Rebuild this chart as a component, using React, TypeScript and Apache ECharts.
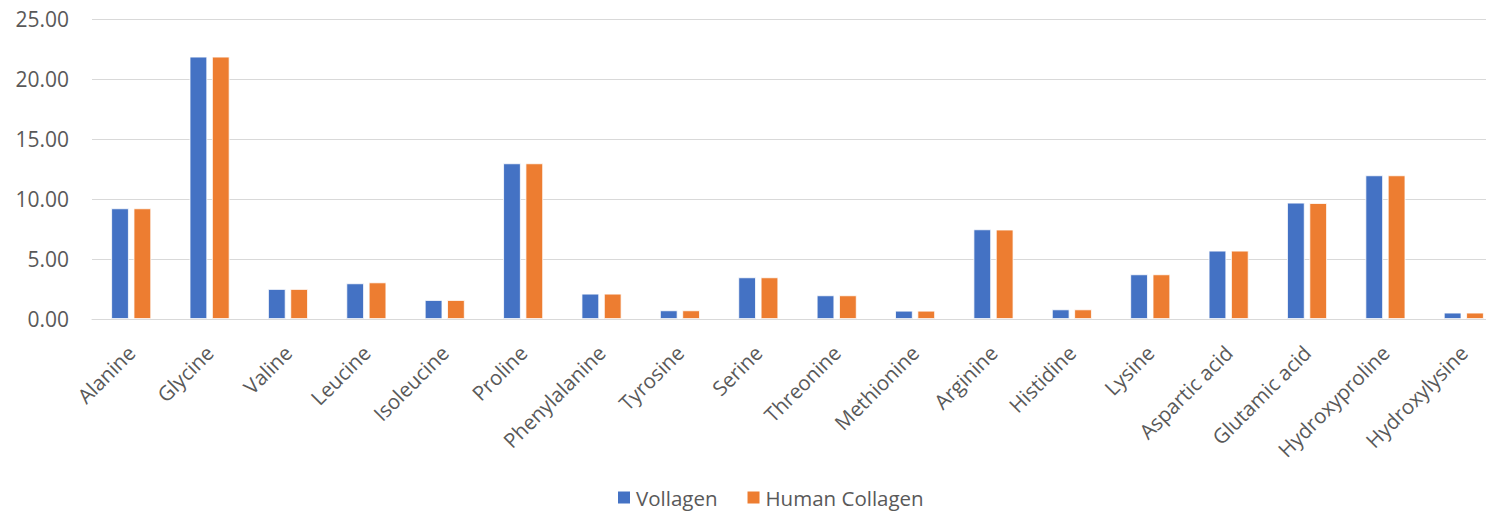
import React, { useEffect, useRef } from "react";
import * as echarts from "echarts";

const categories = [
  "Alanine", "Glycine", "Valine", "Leucine", "Isoleucine", "Proline",
  "Phenylalanine", "Tyrosine", "Serine", "Threonine", "Methionine", "Arginine",
  "Histidine", "Lysine", "Aspartic acid", "Glutamic acid", "Hydroxyproline", "Hydroxylysine",
];
const vollagen = [9.22, 21.86, 2.5, 2.97, 1.58, 12.97, 2.11, 0.72, 3.47, 1.97, 0.69, 7.47, 0.8, 3.72, 5.69, 9.69, 11.97, 0.53];
const humanCollagen = [9.22, 21.86, 2.5, 3.05, 1.58, 12.97, 2.11, 0.72, 3.47, 1.97, 0.69, 7.45, 0.8, 3.72, 5.69, 9.66, 11.97, 0.53];
const yTicks = { min: 0, max: 25, interval: 5 };

const FONT = "'Open Sans', 'Noto Sans', sans-serif";
const TEXT = "#595959";

export default function App() {
  const ref = useRef<HTMLDivElement>(null);
  useEffect(() => {
    if (!ref.current) return;
    const chart = echarts.init(ref.current, undefined, { renderer: "svg" });
    chart.setOption({
      animation: false,
      backgroundColor: "#ffffff",
      textStyle: { fontFamily: FONT },
      grid: { left: 92, right: -17, top: 19, bottom: 193, containLabel: false, outerBoundsMode: "none" },
      legend: {
        data: ["Vollagen", "Human Collagen"],
        left: 611,
        top: 482,
        icon: "rect",
        itemWidth: 14,
        itemHeight: 14,
        itemGap: 28,
        textStyle: { color: TEXT, fontSize: 20.5, fontFamily: FONT },
      },
      xAxis: {
        type: "category",
        data: categories,
        axisLine: { show: true, lineStyle: { color: "#d9d9d9", width: 1 } },
        axisTick: { show: false },
        axisLabel: { rotate: 45, color: TEXT, fontSize: 20.5, fontFamily: FONT, margin: 30, interval: 0 },
      },
      yAxis: {
        type: "value",
        min: yTicks.min,
        max: yTicks.max,
        interval: yTicks.interval,
        axisLine: { show: false },
        axisTick: { show: false },
        splitLine: { lineStyle: { color: "#d9d9d9", width: 1 } },
        axisLabel: {
          color: TEXT,
          fontSize: 21,
          fontFamily: FONT,
          margin: 23,
          formatter: (v: number) => v.toFixed(2),
        },
      },
      series: [
        {
          name: "Vollagen",
          type: "bar",
          data: vollagen,
          barWidth: 17.6,
          barGap: "27%",
          itemStyle: { color: "#4472C4", borderColor: "#ffffff", borderWidth: 0.8 },
        },
        {
          name: "Human Collagen",
          type: "bar",
          data: humanCollagen,
          barWidth: 17.6,
          barGap: "27%",
          itemStyle: { color: "#ED7D31", borderColor: "#ffffff", borderWidth: 0.8 },
        },
      ],
    });
    return () => chart.dispose();
  }, []);
  return <div ref={ref} style={{ position: "fixed", left: 0, top: 0, width: 1486, height: 512 }} />;
}
